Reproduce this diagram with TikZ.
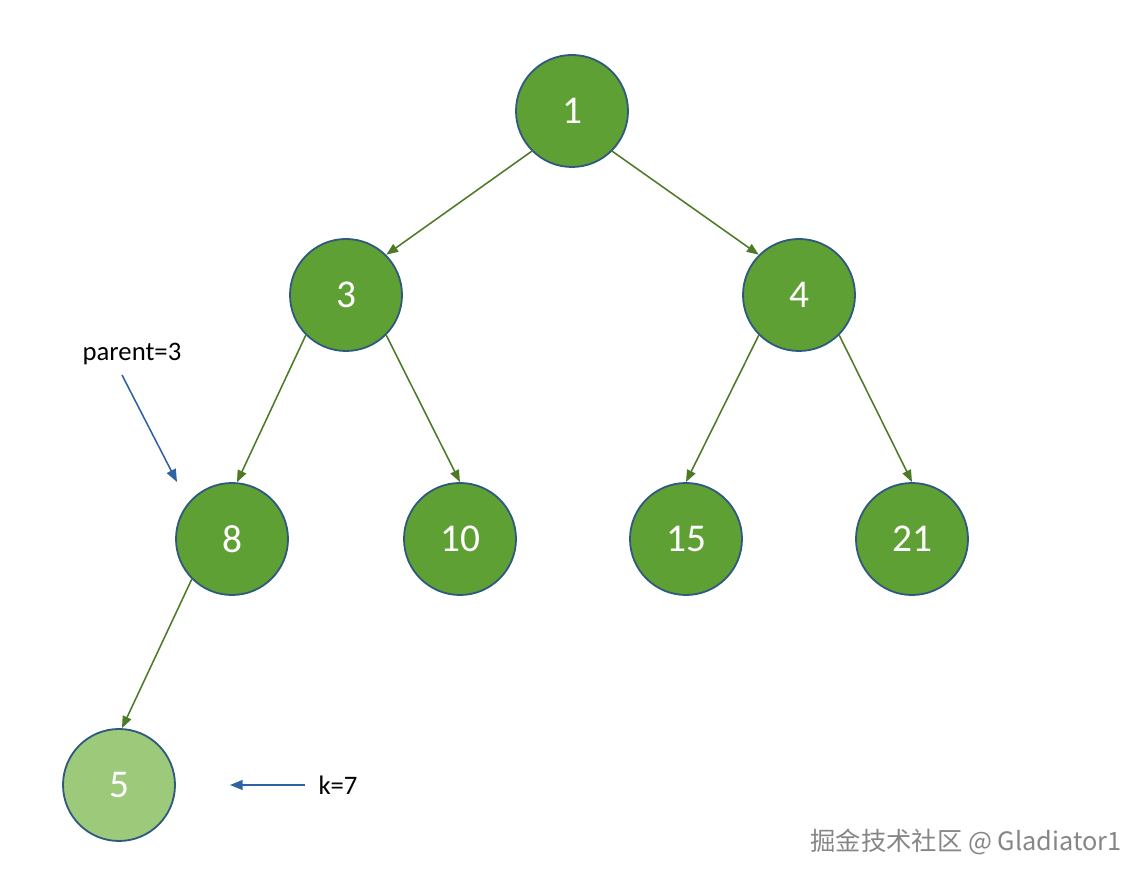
\documentclass[tikz,border=0pt]{standalone}
\usepackage{fontspec}
\setmainfont{Carlito}
\newfontfamily\cjkfont{Noto Sans CJK SC}
\usetikzlibrary{arrows.meta}

\definecolor{heapgreen}{HTML}{5FA035}
\definecolor{heaplight}{HTML}{9CC97A}
\definecolor{heapborder}{HTML}{2F5A7E}
\definecolor{heapline}{HTML}{4C7A26}
\definecolor{noteblue}{HTML}{2E62A2}

\begin{document}
\begin{tikzpicture}[
    heapnode/.style={circle, draw=heapborder, line width=1.3pt, fill=heapgreen,
        minimum size=2.8cm, inner sep=0pt, text=white,
        font=\fontsize{28}{30}\selectfont},
    heapedge/.style={draw=heapline, line width=1.1pt,
        -{Triangle[length=8.5pt,width=6.5pt]}},
    noteedge/.style={draw=noteblue, line width=1.1pt,
        -{Triangle[length=9pt,width=7pt]}},
    notetext/.style={font=\fontsize{19}{22}\selectfont}
]

    \useasboundingbox (0,0) rectangle (28.65,22);

    % Heap nodes
    \node[heapnode] (n1) at (14.3,19.225) {1};
    \node[heapnode] (n3) at (8.65,14.625) {3};
    \node[heapnode] (n4) at (19.975,14.625) {4};
    \node[heapnode] (n8) at (5.8,8.525) {8};
    \node[heapnode] (n10) at (11.5,8.525) {10};
    \node[heapnode] (n15) at (17.15,8.525) {15};
    \node[heapnode] (n21) at (22.8,8.525) {21};
    % New element
    \node[heapnode, fill=heaplight] (n5) at (2.975,2.375) {5};

    % Edges
    \draw[heapedge] (n1.225) -- (n3.45);
    \draw[heapedge] (n1.-45) -- (n4.135);
    \draw[heapedge] (n3.225) -- (n8.85);
    \draw[heapedge] (n3.-45) -- (n10.90);
    \draw[heapedge] (n4.225) -- (n15.90);
    \draw[heapedge] (n4.-45) -- (n21.90);
    \draw[heapedge] (n8.225) -- (n5.87);

    % Annotations
    \node[notetext] (parent) at (3.3,13.15) {parent=3};
    \coordinate (parentfrom) at (3.05,12.625);
    \coordinate (parentto) at (4.425,9.95);
    \draw[noteedge] (parentfrom) -- (parentto);

    \node[notetext] (k) at (8.45,2.375) {k=7};
    \coordinate (kto) at (5.75,2.375);
    \draw[noteedge] ([xshift=-6pt]k.west) -- (kto);

    % Watermark
    \node[text=gray!95, font=\cjkfont\fontsize{18}{21}\selectfont] (mark) at (24.15,0.95) {掘金技术社区 @ Gladiator1};
\end{tikzpicture}
\end{document}
